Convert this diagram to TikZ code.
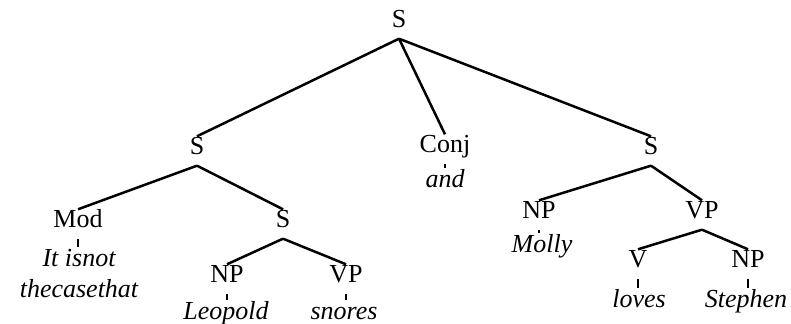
\documentclass[tikz,border=0pt]{standalone}
\usepackage{fontspec}
\setmainfont{Liberation Serif}
\newcommand\treefont{\fontsize{13}{15.5}\selectfont}
\tikzset{cat/.style={font=\treefont, inner sep=0.75pt, text height=8.4pt, text depth=4.4pt, anchor=base},
  leaf/.style={font=\treefont\itshape, inner sep=1pt, text height=8.8pt, anchor=base},
  branch/.style={line width=1.25pt}}

\begin{document}
\begin{tikzpicture}[x=0.5pt, y=-0.5pt]
      \useasboundingbox (0,0) rectangle (791,324);
      \node [cat] (s) at (399,28) {S};
      \node [cat] (sl) at (197,155) {S};
      \node [cat] (conj) at (445,153) {Conj};
      \node [cat] (sr) at (651,155) {S};
      \node [cat] (mod) at (78,228) {Mod};
      \node [cat] (sll) at (283,228) {S};
      \node [cat] (np1) at (227,283) {NP};
      \node [cat] (vp1) at (346,283) {VP};
      \node [cat] (np2) at (539,219) {NP};
      \node [cat] (vp2) at (702,219) {VP};
      \node [cat] (v) at (638,268) {V};
      \node [cat] (np3) at (748,268) {NP};
      \node [leaf] (and) at (445,188) {and};
      \node [leaf, text height={}, align=center, anchor=north] (itisnot) at (79,247) {It isnot\\thecasethat};
      \node [leaf] (leopold) at (226,320) {Leopold};
      \node [leaf] (snores) at (344,320) {snores};
      \node [leaf] (molly) at (542,253) {Molly};
      \node [leaf] (loves) at (639,308) {loves};
      \node [leaf] (stephen) at (746,308) {Stephen};
      \foreach \p/\c in {s/sl, s/conj, s/sr, sl/mod, sl/sll, sll/np1, sll/vp1, sr/np2, sr/vp2, vp2/v, vp2/np3} {
        \draw [branch] (\p.south) -- (\c.north);
      }
      \foreach \p/\w in {conj/and, mod/itisnot, np1/leopold, vp1/snores, np2/molly, v/loves, np3/stephen} {
        \draw [branch] (\p.south) -- (\p.south |- \w.north);
      }
    \end{tikzpicture}
\end{document}
